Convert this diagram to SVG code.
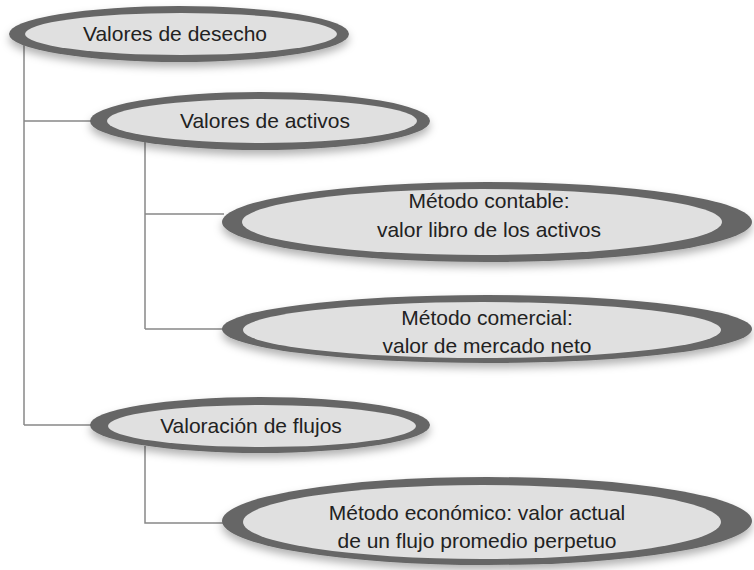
<svg xmlns="http://www.w3.org/2000/svg" width="754" height="570" viewBox="0 0 754 570">
<style>
.outer{fill:#666666;filter:url(#sh);}
.inner{fill:#e0e0e0;}
.lbl{font-family:"Liberation Sans",Arial,sans-serif;font-size:21px;fill:#222222;text-anchor:middle;}
.conn{stroke:#888888;stroke-width:1.5;fill:none;}
</style>
<defs>
<filter id="sh" x="-10%" y="-30%" width="120%" height="170%">
<feDropShadow dx="0" dy="5" stdDeviation="4" flood-color="#000" flood-opacity="0.3"/>
</filter>
</defs>
<rect width="754" height="570" fill="#ffffff"/>
<g id="connectors">
<path class="conn" d="M24 45 V425 M24 121 H92 M24 425 H92"/>
<path class="conn" d="M145 142 V329 M145 214 H224 M145 329 H224"/>
<path class="conn" d="M145 446 V523 H224"/>
</g>
<g id="n1">
<ellipse class="outer" cx="179" cy="34" rx="170" ry="28"/>
<ellipse class="inner" cx="181" cy="34" rx="156" ry="21"/>
<text class="lbl" x="175" y="41">Valores de desecho</text>
</g>
<g id="n2">
<ellipse class="outer" cx="260" cy="121" rx="170" ry="29"/>
<ellipse class="inner" cx="262" cy="121" rx="155" ry="22"/>
<text class="lbl" x="265" y="128">Valores de activos</text>
</g>
<g id="n3">
<ellipse class="outer" cx="487" cy="222" rx="265" ry="40"/>
<ellipse class="inner" cx="482" cy="222" rx="240" ry="33"/>
<text class="lbl" x="489" y="208">Método contable:</text>
<text class="lbl" x="489" y="237">valor libro de los activos</text>
</g>
<g id="n4">
<ellipse class="outer" cx="487" cy="329" rx="265" ry="34"/>
<ellipse class="inner" cx="482" cy="330" rx="239" ry="28"/>
<text class="lbl" x="487" y="325">Método comercial:</text>
<text class="lbl" x="487" y="353">valor de mercado neto</text>
</g>
<g id="n5">
<ellipse class="outer" cx="260" cy="425" rx="170" ry="28"/>
<ellipse class="inner" cx="262" cy="426" rx="154" ry="21"/>
<text class="lbl" x="251" y="433">Valoración de flujos</text>
</g>
<g id="n6">
<ellipse class="outer" cx="487" cy="521" rx="265" ry="44"/>
<ellipse class="inner" cx="482" cy="522" rx="239" ry="37"/>
<text class="lbl" x="477" y="520">Método económico: valor actual</text>
<text class="lbl" x="477" y="548">de un flujo promedio perpetuo</text>
</g>
</svg>
